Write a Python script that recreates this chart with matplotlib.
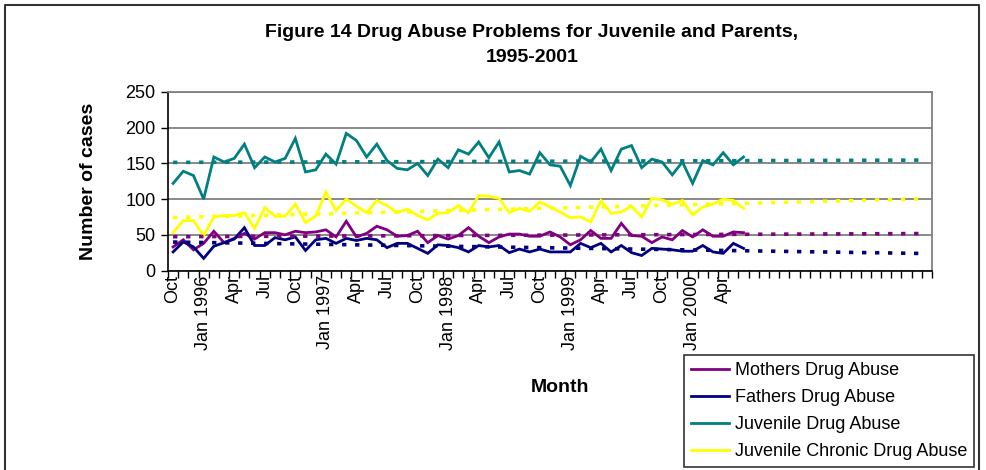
import numpy as np
import matplotlib
matplotlib.use("Agg")
import matplotlib.pyplot as plt
from matplotlib.lines import Line2D

plt.rcParams['font.family'] = ['Liberation Sans', 'DejaVu Sans']

# monthly counts, Oct 1995 - Jun 2000
mothers = [33, 43, 29, 38, 55, 39, 45, 52, 44, 53, 53, 50, 55, 53, 54, 57, 47, 69, 47,
           52, 62, 57, 48, 49, 55, 39, 49, 44, 49, 60, 48, 39, 47, 51, 51, 48, 48, 54,
           47, 36, 43, 56, 45, 45, 66, 49, 48, 39, 47, 43, 56, 47, 57, 48, 48, 54, 53]
fathers = [26, 40, 33, 17, 34, 39, 44, 60, 35, 35, 46, 43, 47, 28, 43, 45, 38, 45, 42,
           45, 43, 32, 38, 38, 31, 24, 36, 35, 32, 26, 35, 33, 35, 25, 30, 26, 30, 26,
           26, 26, 38, 32, 38, 26, 35, 25, 21, 31, 30, 29, 27, 27, 35, 26, 24, 38, 31]
juvenile = [122, 139, 133, 100, 159, 152, 157, 177, 144, 159, 152, 157, 185, 138, 141,
            163, 149, 192, 182, 159, 177, 154, 143, 141, 150, 133, 156, 144, 169, 163,
            180, 158, 180, 138, 140, 135, 165, 148, 146, 119, 160, 152, 170, 140, 170,
            175, 144, 156, 152, 134, 152, 122, 154, 148, 165, 148, 159]
chronic = [53, 70, 70, 49, 75, 77, 77, 81, 59, 88, 76, 76, 93, 67, 76, 110, 84, 100, 90,
           81, 98, 91, 81, 86, 77, 71, 80, 81, 91, 81, 105, 104, 101, 81, 87, 83, 96, 89,
           82, 74, 75, 68, 98, 80, 82, 90, 75, 101, 99, 93, 98, 78, 89, 93, 100, 98, 87]

n_months = 75  # axis runs Oct 1995 - Dec 2001
month_names = ['Jan', 'Feb', 'Mar', 'Apr', 'May', 'Jun',
               'Jul', 'Aug', 'Sep', 'Oct', 'Nov', 'Dec']
series = [
    ("Mothers Drug Abuse", mothers, "#800080"),
    ("Fathers Drug Abuse", fathers, "#000080"),
    ("Juvenile Drug Abuse", juvenile, "#008080"),
    ("Juvenile Chronic Drug Abuse", chronic, "#FFFF00"),
]

fig = plt.figure(figsize=(9.86, 4.70), dpi=100)
ax = fig.add_axes([168/986, 1 - 270.5/470, (932-168)/986, (270.5-92)/470])

x_all = np.arange(n_months)
for name, vals, col in series:
    xs = np.arange(len(vals))
    ax.plot(xs, vals, color=col, lw=2.0, zorder=3, solid_joinstyle='miter')
# linear trend over the data, carried forward to the end of the axis
for name, vals, col in series:
    xs = np.arange(len(vals))
    k, b = np.polyfit(xs, vals, 1)
    ax.plot(x_all, k * x_all + b, color=col, lw=2.6, linestyle=(0, (1.2, 2.4)),
            dash_capstyle='butt', zorder=4)

ax.set_xlim(-0.5, n_months - 0.5)
ax.set_ylim(0, 250)
ax.set_yticks(range(0, 251, 50))
ax.yaxis.grid(True, color='#808080', lw=1.3)
ax.set_axisbelow(True)

# month ticks between categories, labels every quarter up to Apr 2000
ax.set_xticks(np.arange(-0.5, n_months, 1), minor=True)
ax.tick_params(axis='x', which='minor', length=5, width=1, color='black')
ax.tick_params(axis='x', which='major', length=0)
lab_pos, lab_txt = [], []
for i in range(0, 57, 3):
    m = (9 + i) % 12
    yr = 1995 + (9 + i) // 12
    lab_pos.append(i)
    lab_txt.append(f"Jan {yr}" if m == 0 else month_names[m])
ax.set_xticks(lab_pos)
ax.set_xticklabels(lab_txt, rotation=90, va='top', ha='center', fontsize=13)
ax.tick_params(axis='y', length=5, width=1, labelsize=13, pad=4)

for side in ['left', 'bottom']:
    ax.spines[side].set_color('black')
    ax.spines[side].set_linewidth(1.2)
for side in ['right', 'top']:
    ax.spines[side].set_color('#808080')
    ax.spines[side].set_linewidth(1.3)

ax.set_ylabel("Number of cases", fontsize=14, fontweight='bold', labelpad=20)
fig.text(560/986, 1 - 388/470, "Month", fontsize=14, fontweight='bold',
         ha='center', va='center')
fig.text(532/986, 1 - 45/470,
         "Figure 14 Drug Abuse Problems for Juvenile and Parents,\n1995-2001",
         fontsize=14, fontweight='bold', ha='center', va='center', linespacing=1.55)

handles = [Line2D([], [], color=col, lw=2.0) for _, _, col in series]
leg = fig.legend(handles, [s[0] for s in series], loc='upper left',
                 bbox_to_anchor=(684/986, 1 - 355/470), fontsize=13,
                 frameon=True, fancybox=False, edgecolor='black',
                 handlelength=2.1, handletextpad=0.3, labelspacing=0.55,
                 borderpad=0.4, borderaxespad=0)
leg.get_frame().set_linewidth(1.2)

# outer chart border
fig.add_artist(Line2D([5/986, 5/986, 979/986, 979/986],
                      [0, 1 - 5/470, 1 - 5/470, 0],
                      transform=fig.transFigure, color='#333333', lw=1.5))

fig.savefig("out.png", dpi=100)
